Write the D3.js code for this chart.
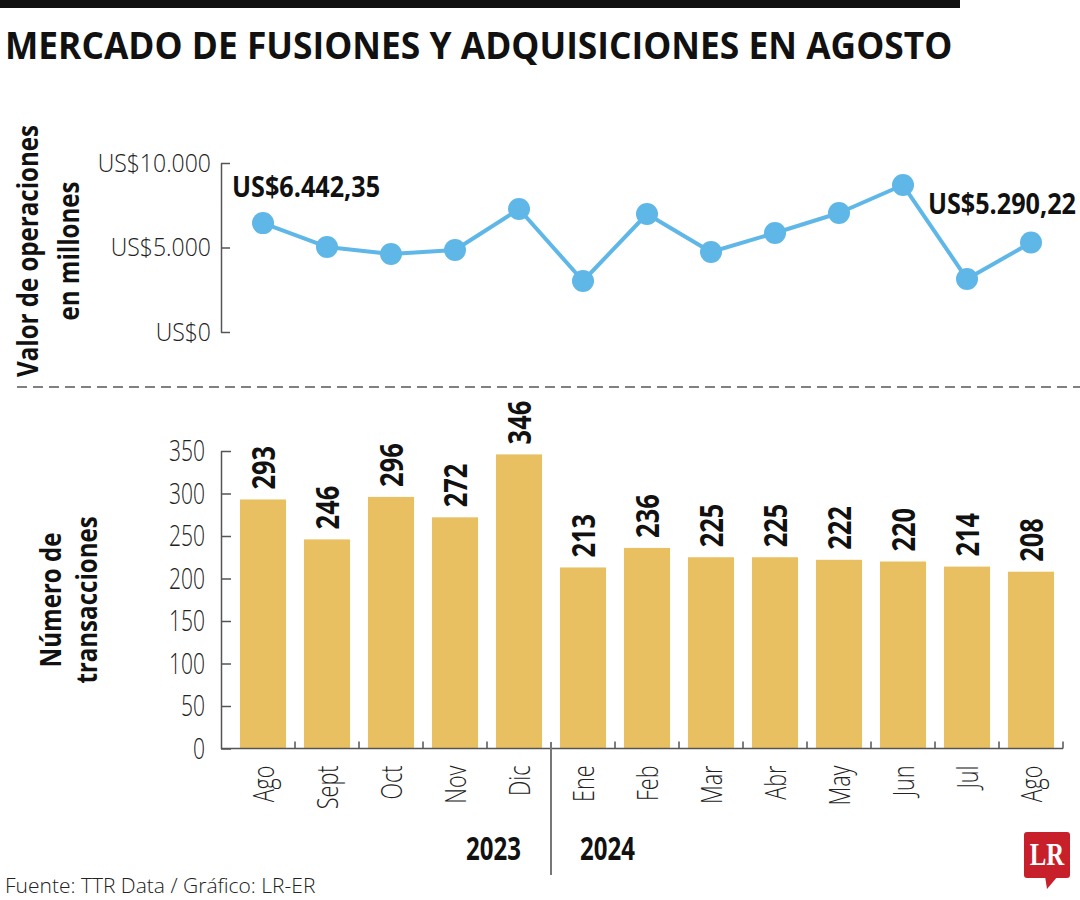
<!DOCTYPE html>
<html><head><meta charset="utf-8">
<script src="https://cdn.jsdelivr.net/npm/d3@7"></script>
<style>
body{margin:0;background:#fff;}
svg{display:block;}
text{font-family:'Open Sans','Noto Sans',sans-serif;}
</style>
</head><body>
<svg id="chart" width="1080" height="900"></svg>
<script>
// ---------- DATA ----------
const title = "MERCADO DE FUSIONES Y ADQUISICIONES EN AGOSTO";
const months = ["Ago","Sept","Oct","Nov","Dic","Ene","Feb","Mar","Abr","May","Jun","Jul","Ago"];
const monthYear = ["2023","2023","2023","2023","2023","2024","2024","2024","2024","2024","2024","2024","2024"];
const years = ["2023","2024"];
const valueMillions = [6442.35,5030,4615,4852,7278,3018,6982,4734,5858,7041,8698,3136,5290.22];
const transactions = [293,246,296,272,346,213,236,225,225,222,220,214,208];
const valueTicks = [0,5000,10000];
const countTicks = [0,50,100,150,200,250,300,350];
const labelledPoints = [0,12];
const topAxisTitle = ["Valor de operaciones","en millones"];
const bottomAxisTitle = ["Número de","transacciones"];
const source = "Fuente: TTR Data / Gráfico: LR-ER";

// ---------- SETUP ----------
const svg = d3.select("#chart");
const W = 1080;
const keys = months.map((m,i)=>i+"|"+m);
const BLUE = "#5FB7E8", GOLD = "#E8C061", AXIS = "#555", INK = "#111";
const LIGHT = 300;

const loc = d3.formatLocale({decimal:",",thousands:".",grouping:[3],currency:["US$",""]});
const fmtTick = loc.format("$,.0f");
const fmtVal = loc.format("$,.2f");

function condense(sel,k){
  sel.each(function(){
    const L = this.getComputedTextLength();
    if (L>0){ this.setAttribute("textLength", L*k); this.setAttribute("lengthAdjust","spacingAndGlyphs"); }
  });
}

const x = d3.scaleBand().domain(keys).range([231,1063]).paddingInner(0.28).paddingOuter(0.14);
const cx = k => x(k) + x.bandwidth()/2;
const yTop = d3.scaleLinear().domain([0,10000]).range([332,163]);
const yBot = d3.scaleLinear().domain([0,350]).range([748.5,451]);

// top black rule
svg.append("rect").attr("x",0).attr("y",0).attr("width",960).attr("height",8).attr("fill",INK);

// title
svg.append("text").attr("x",5).attr("y",59).text(title)
  .attr("font-size",38).attr("font-weight",700).attr("fill",INK)
  .call(condense,0.93);

// ---------- TOP LINE CHART ----------
const gTopAxis = svg.append("g").attr("transform","translate(221,0)")
  .call(d3.axisLeft(yTop).tickValues(valueTicks).tickFormat(fmtTick).tickSize(-9).tickSizeOuter(0).tickPadding(10));
gTopAxis.select(".domain").attr("stroke",AXIS).attr("stroke-width",1.5);
gTopAxis.selectAll(".tick line").attr("stroke",AXIS).attr("stroke-width",1.5);
gTopAxis.selectAll(".tick text").attr("font-size",25).attr("font-weight",LIGHT).attr("fill","#222")
  .call(condense,0.92);

const topTitle = svg.append("text").attr("transform","translate(0,251) rotate(-90)")
  .attr("text-anchor","middle").attr("font-size",29).attr("font-weight",700).attr("fill",INK);
topAxisTitle.forEach((t,i)=>{
  topTitle.append("tspan").attr("x",0).attr("y", i===0 ? 38 : 79).text(t);
});
topTitle.selectAll("tspan").call(condense,0.83);

const line = d3.line().x((d,i)=>cx(keys[i])).y(d=>yTop(d));
svg.append("path").datum(valueMillions).attr("d",line)
  .attr("fill","none").attr("stroke",BLUE).attr("stroke-width",4).attr("stroke-linejoin","round");
svg.append("g").selectAll("circle").data(valueMillions).join("circle")
  .attr("cx",(d,i)=>cx(keys[i])).attr("cy",d=>yTop(d)).attr("r",11).attr("fill",BLUE);

// point labels (condensed horizontally with a scale transform)
const pl = svg.append("g").selectAll("text").data(labelledPoints).join("text")
  .attr("font-size",28).attr("font-weight",700).attr("fill",INK)
  .text(i=>fmtVal(valueMillions[i]));
pl.filter((d,j)=>j===0).attr("text-anchor","start")
  .attr("transform",i=>`translate(${cx(keys[i])-31},${yTop(valueMillions[i])-26}) scale(0.9,1)`);
pl.filter((d,j)=>j===1).attr("text-anchor","end")
  .attr("transform",i=>`translate(${W-4},${yTop(valueMillions[i])-29}) scale(0.9,1)`);

// dashed separator
svg.append("line").attr("x1",17).attr("x2",W).attr("y1",387).attr("y2",387)
  .attr("stroke","#808080").attr("stroke-width",2).attr("stroke-dasharray","10,6");

// ---------- BOTTOM BAR CHART ----------
svg.append("g").selectAll("rect").data(transactions).join("rect")
  .attr("x",(d,i)=>x(keys[i])).attr("width",x.bandwidth())
  .attr("y",d=>yBot(d)).attr("height",d=>yBot(0)-yBot(d)).attr("fill",GOLD);

svg.append("g").selectAll("text").data(transactions).join("text")
  .attr("transform",(d,i)=>`translate(${cx(keys[i])},${yBot(d)-10}) rotate(-90)`)
  .attr("dy","0.35em").attr("text-anchor","start")
  .attr("font-size",33).attr("font-weight",700).attr("fill",INK)
  .text(d=>d).call(condense,0.77);

const gBotAxis = svg.append("g").attr("transform","translate(221,0)")
  .call(d3.axisLeft(yBot).tickValues(countTicks).tickSize(-10).tickSizeOuter(0).tickPadding(16));
gBotAxis.select(".domain").attr("stroke",AXIS).attr("stroke-width",1.5);
gBotAxis.selectAll(".tick line").attr("stroke",AXIS).attr("stroke-width",1.5);
gBotAxis.selectAll(".tick text").attr("font-size",30).attr("font-weight",LIGHT).attr("fill","#222")
  .call(condense,0.7);

// x baseline
const xEnd = x.range()[1];
svg.append("line").attr("x1",221).attr("x2",xEnd).attr("y1",yBot(0)).attr("y2",yBot(0))
  .attr("stroke",AXIS).attr("stroke-width",1.5);
// boundary ticks
const bounds = keys.map((k,i)=> i<keys.length-1 ? (x(k)+x.bandwidth()+x(keys[i+1]))/2 : xEnd);
const yearBreak = monthYear.findIndex(y=>y===years[1]) - 1;
svg.append("g").selectAll("line").data(bounds.filter((b,i)=>i!==yearBreak)).join("line")
  .attr("x1",d=>d).attr("x2",d=>d).attr("y1",yBot(0)).attr("y2",yBot(0)-7)
  .attr("stroke",AXIS).attr("stroke-width",1.5);
// year separator
svg.append("line").attr("x1",bounds[yearBreak]).attr("x2",bounds[yearBreak])
  .attr("y1",742).attr("y2",875).attr("stroke","#777").attr("stroke-width",2);

// month labels
const gX = svg.append("g").attr("transform",`translate(0,${yBot(0)})`)
  .call(d3.axisBottom(x).tickSize(0).tickFormat((k,i)=>months[i]));
gX.select(".domain").remove();
gX.selectAll(".tick text").attr("transform","rotate(-90)").attr("x",-17).attr("y",0).attr("dy","0.35em")
  .style("text-anchor","end").attr("font-size",30).attr("font-weight",LIGHT).attr("fill","#222")
  .call(condense,0.72);

// year labels
svg.append("text").attr("x",bounds[yearBreak]-30).attr("y",860).attr("text-anchor","end")
  .attr("font-size",32).attr("font-weight",700).attr("fill",INK).text(years[0]).call(condense,0.75);
svg.append("text").attr("x",bounds[yearBreak]+29).attr("y",860).attr("text-anchor","start")
  .attr("font-size",32).attr("font-weight",700).attr("fill",INK).text(years[1]).call(condense,0.75);

// bottom axis title
const botTitle = svg.append("text").attr("transform","translate(0,600) rotate(-90)")
  .attr("text-anchor","middle").attr("font-size",29).attr("font-weight",700).attr("fill",INK);
bottomAxisTitle.forEach((t,i)=>{
  botTitle.append("tspan").attr("x",0).attr("y", i===0 ? 61 : 97).text(t);
});
botTitle.selectAll("tspan").call(condense,0.83);

// footer
svg.append("text").attr("x",5).attr("y",893).attr("font-size",21).attr("font-weight",LIGHT)
  .attr("fill","#222").text(source).call(condense,1.0);

// LR logo
const logo = svg.append("g");
logo.append("rect").attr("x",1024).attr("y",832).attr("width",46).attr("height",46).attr("rx",3).attr("fill","#C8202B");
logo.append("path").attr("d","M1045,876 L1058,876 L1047,889 Z").attr("fill","#C8202B");
logo.append("text").attr("x",1047).attr("y",865).attr("text-anchor","middle")
  .style("font-family","'Liberation Serif','DejaVu Serif',serif").attr("font-weight",700)
  .attr("font-size",31).attr("fill","#fff").text("LR").call(condense,0.8);
</script>
</body></html>
